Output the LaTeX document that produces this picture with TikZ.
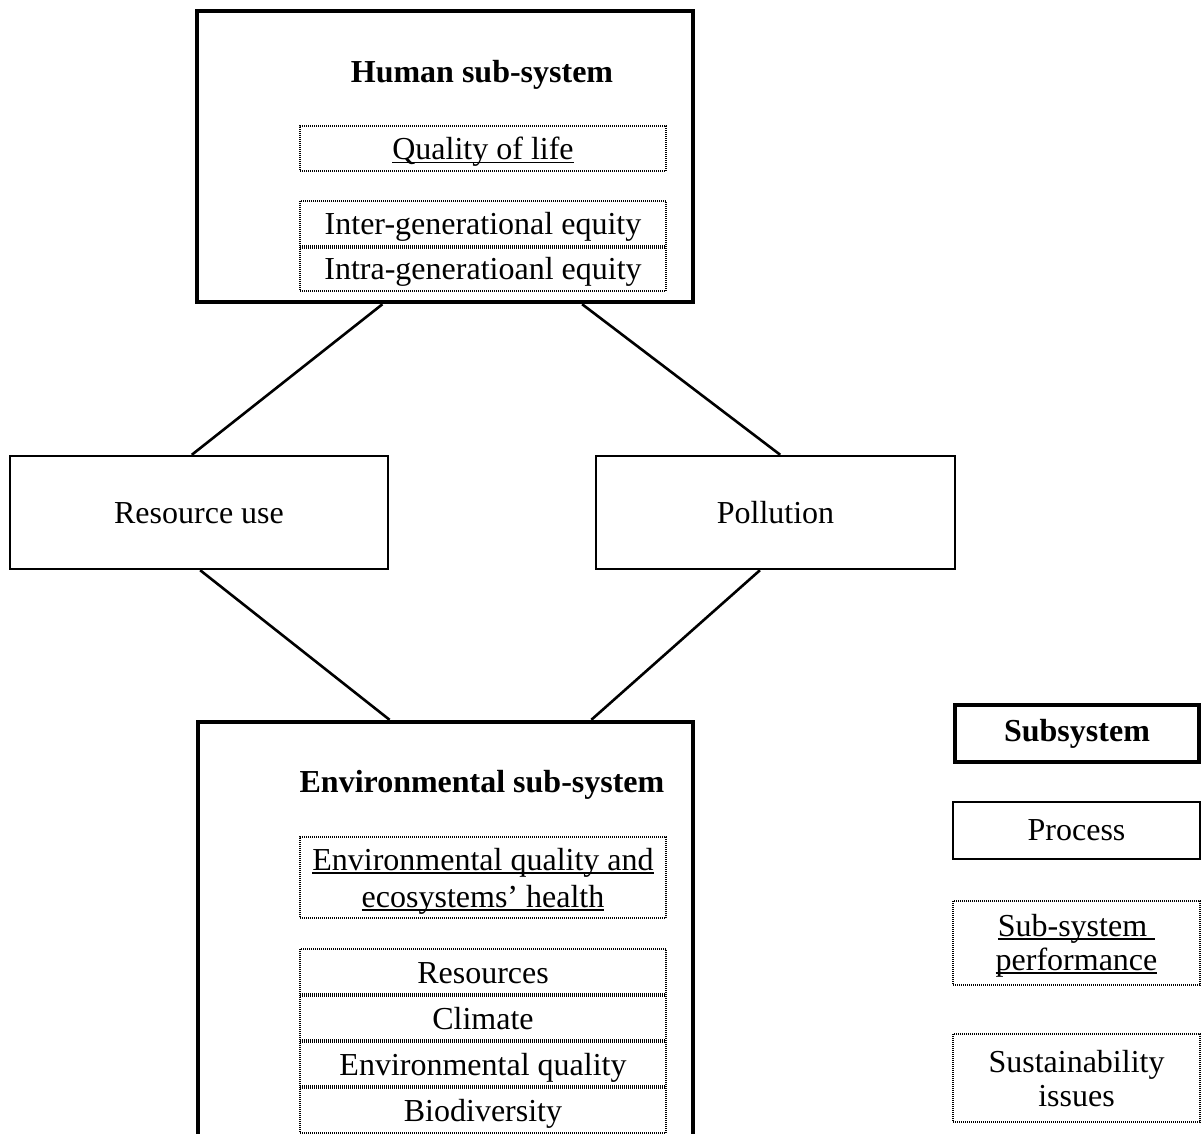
\documentclass[tikz,border=0pt]{standalone}
\usepackage{fontspec}
\setmainfont{Liberation Serif}
\usetikzlibrary{calc}
% underline drawn at a fixed distance below the baseline
\newcommand\wordul[1]{\setbox0\hbox{#1}\rlap{\rule[-1.8pt]{\wd0}{0.75pt}}\box0}
\begin{document}
\begin{tikzpicture}[x=0.5pt,y=-0.5pt,
  txt/.style={font=\fontsize{16}{18.5}\selectfont, align=center, inner sep=0pt},
  oneline/.style={text height=14pt, text depth=3pt},
  title/.style={txt, font=\fontsize{16}{18.5}\selectfont\bfseries},
  subsys/.style={draw, line width=2.2pt, inner sep=0pt},
  process/.style={draw, line width=1.2pt, inner sep=0pt, txt},
  dotline/.style={line width=1pt, dash pattern=on 0.5pt off 0.5pt},
  divider/.style={line width=1.6pt, dash pattern=on 0.5pt off 0.5pt},
  issue/.style={inner sep=0pt, outer sep=0pt, txt, minimum width=183pt},
  legissue/.style={draw, line width=0.6pt, dash pattern=on 0.5pt off 0.5pt, inner sep=0pt, txt,
                font=\fontsize{16}{17}\selectfont, minimum width=123.5pt},
  link/.style={line width=1.3pt}]
\useasboundingbox (0,0) rectangle (1202,1133);

% Human sub-system
\node[subsys, minimum width=248pt, minimum height=145.5pt] (human) at (445,156.5) {};
\node[title] (humtitle) at (482,75) {Human sub-system};
\node[issue, oneline, draw, dotline, minimum height=22.5pt] (qol) at (483,148.5) {\wordul{Quality of life}};
\node[issue, oneline, minimum height=23pt, anchor=north] (inter) at (483,201) {Inter-generational equity};
\node[issue, oneline, minimum height=22pt, anchor=north] (intra) at (inter.south) {Intra-generatioanl equity};
\draw[dotline] (inter.north west) rectangle (intra.south east);
\draw[divider] (inter.south west) -- (inter.south east);

% Processes
\node[process, oneline, minimum width=189pt, minimum height=56.5pt] (resuse) at (199,512.5) {Resource use};
\node[process, oneline, minimum width=179.5pt, minimum height=56.5pt] (poll) at (775.5,512.5) {Pollution};

% Environmental sub-system (continues below the lower edge)
\node[subsys, minimum width=247.5pt, minimum height=229pt] (env) at (445.5,951) {};
\node[title] (envtitle) at (482,785) {Environmental sub-system};
\node[issue, draw, dotline, text height=33pt, text depth=3.5pt, minimum height=40.5pt] (envq) at (483,877.5)
  {\wordul{Environmental quality and}\\\wordul{ecosystems’ health}};
\node[issue, oneline, minimum height=23pt, anchor=north] (res) at (483,949) {Resources};
\node[issue, oneline, minimum height=23pt, anchor=north] (clim) at (res.south) {Climate};
\node[issue, oneline, minimum height=23pt, anchor=north] (envqual) at (clim.south) {Environmental quality};
\node[issue, oneline, minimum height=23pt, anchor=north] (biodiv) at (envqual.south) {Biodiversity};
\draw[dotline] (res.north west) rectangle (biodiv.south east);
\foreach \row in {res,clim,envqual}
  \draw[divider] (\row.south west) -- (\row.south east);

% Connectors
\draw[link] ($(human.south west)!0.375!(human.south east)$) -- ($(resuse.north west)!0.481!(resuse.north east)$);
\draw[link] ($(human.south west)!0.774!(human.south east)$) -- ($(poll.north west)!0.513!(poll.north east)$);
\draw[link] ($(resuse.south west)!0.503!(resuse.south east)$) -- ($(env.north west)!0.388!(env.north east)$);
\draw[link] ($(poll.south west)!0.457!(poll.south east)$) -- ($(env.north west)!0.792!(env.north east)$);

% Legend
\node[subsys, title, minimum width=122pt, minimum height=28.5pt] (lsub) at (1077,733.5) {Subsystem};
\node[process, minimum width=123.5pt, minimum height=28.5pt] (lproc) at (1076.5,830.5) {Process};
\node[legissue, text height=30.5pt, text depth=3.5pt, minimum height=42pt] (lperf) at (1076.5,943)
  {\wordul{Sub-system\ }\\\wordul{performance}};
\node[legissue, text height=31.5pt, text depth=3.5pt, minimum height=44pt] (liss) at (1076.5,1078)
  {Sustainability\\issues};
\end{tikzpicture}
\end{document}
